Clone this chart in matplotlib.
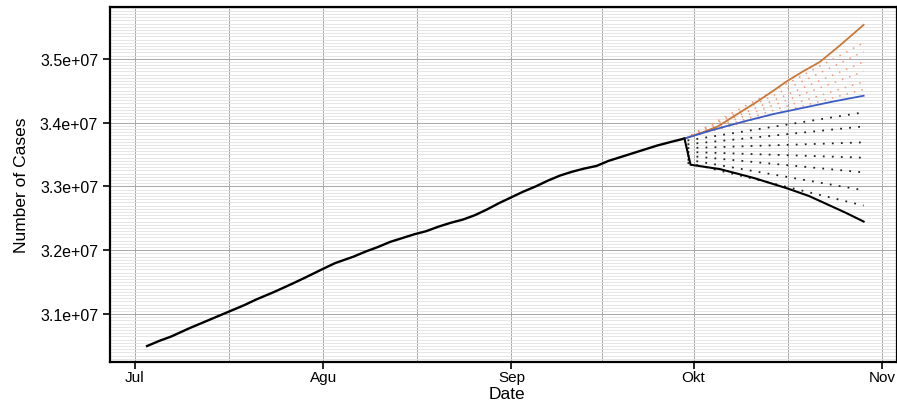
import numpy as np
import matplotlib.pyplot as plt
from matplotlib.ticker import MultipleLocator, FuncFormatter

plt.rcParams['font.family'] = ['Liberation Sans', 'DejaVu Sans']

# Observed cumulative cases (x = days since 1 Jul)
obs_days = [2, 4, 6, 9, 11, 13, 16, 18, 20, 23, 26, 28, 31, 33, 36, 38, 40,
            42, 44, 46, 48, 50, 52, 54, 56, 58, 60, 62, 64, 66, 68, 70, 72,
            74, 76, 78, 80, 82, 84, 86, 88, 90.5]
obs_cases = [3.050e7, 3.058e7, 3.065e7, 3.078e7, 3.086e7, 3.094e7, 3.106e7,
             3.114e7, 3.123e7, 3.135e7, 3.148e7, 3.157e7, 3.171e7, 3.180e7,
             3.190e7, 3.198e7, 3.205e7, 3.213e7, 3.219e7, 3.225e7, 3.230e7,
             3.237e7, 3.243e7, 3.248e7, 3.255e7, 3.264e7, 3.274e7, 3.283e7,
             3.292e7, 3.300e7, 3.309e7, 3.317e7, 3.323e7, 3.328e7, 3.332e7,
             3.340e7, 3.346e7, 3.352e7, 3.358e7, 3.364e7, 3.369e7, 3.375e7]

# Forecast bounds
up_days = [90.5, 93, 96, 99, 102.5, 105, 107.4, 110, 112.8, 116, 120]
up_cases = [3.375e7, 3.383e7, 3.394e7, 3.412e7, 3.433e7, 3.449e7, 3.465e7,
            3.480e7, 3.495e7, 3.520e7, 3.553e7]
mid_days = [90.5, 95, 100, 105, 110, 115, 120]
mid_cases = [3.375e7, 3.388e7, 3.401e7, 3.413e7, 3.423e7, 3.433e7, 3.442e7]
low_days = [90.5, 91.5, 96.4, 102, 107.4, 111, 114, 117, 120]
low_cases = [3.375e7, 3.334e7, 3.327e7, 3.313e7, 3.297e7, 3.285e7, 3.272e7,
             3.259e7, 3.245e7]

# Dotted fan lines (start value at day 91 / end value at day 120)
black_fan_start = [3.372e7, 3.366e7, 3.360e7, 3.354e7, 3.348e7, 3.342e7, 3.337e7]
black_fan_end = [3.416e7, 3.394e7, 3.369e7, 3.345e7, 3.322e7, 3.294e7, 3.270e7]
orange_fan_end = [3.525e7, 3.511e7, 3.495e7, 3.480e7, 3.464e7, 3.452e7]

month_pos = [0, 31, 62, 92, 123]
month_labels = ['Jul', 'Agu', 'Sep', 'Okt', 'Nov']

fig = plt.figure(figsize=(8.97, 4.02), dpi=100)
ax = fig.add_axes([110 / 897, 1 - 363 / 402, 1 - 110 / 897, (363 - 8) / 402])

# background grid
ax.yaxis.set_minor_locator(MultipleLocator(5e4))
ax.set_xticks([15.5, 46.5, 77, 107.5], minor=True)
ax.grid(which='minor', axis='y', color='#e2e2e2', linewidth=0.6)
ax.grid(which='major', axis='y', color='#a8a8a8', linewidth=0.7)
ax.grid(which='both', axis='x', color='#a8a8a8', linewidth=0.7)
ax.set_axisbelow(True)

# orange dotted fan
for end in orange_fan_end:
    ax.plot([90.5, 120], [3.375e7, end], color='#f09a78', lw=1.1,
            linestyle=(0, (1, 4)))
# black dotted fan
for s, e in zip(black_fan_start, black_fan_end):
    ax.plot([91, 120], [s, e], color='#222222', lw=1.3, linestyle=(0, (1, 4)))

ax.plot(obs_days, obs_cases, color='black', lw=1.7)
ax.plot(up_days, up_cases, color='#c8793a', lw=1.3)
ax.plot(mid_days, mid_cases, color='#3b5cc4', lw=1.3)
ax.plot(low_days, low_cases, color='black', lw=1.5)

ax.set_xlim(-4.1, 125.5)
ax.set_ylim(3.025e7, 3.581e7)
ax.set_xticks(month_pos)
ax.set_xticklabels(month_labels)
ax.set_yticks([3.1e7, 3.2e7, 3.3e7, 3.4e7, 3.5e7])
ax.yaxis.set_major_formatter(FuncFormatter(lambda v, p: f'{v / 1e7:.1f}e+07'))
ax.tick_params(which='major', length=5, width=1.2, labelsize=11.5, direction='out')
ax.tick_params(axis='x', pad=1, labelsize=11)
ax.tick_params(which='minor', length=0)
for s in ax.spines.values():
    s.set_linewidth(1.6)

ax.set_xlabel('Date', fontsize=12.5)
ax.xaxis.set_label_coords(0.5045, -0.068)
ax.set_ylabel('Number of Cases', fontsize=12.5, labelpad=8)

fig.savefig('out.png', dpi=100)
